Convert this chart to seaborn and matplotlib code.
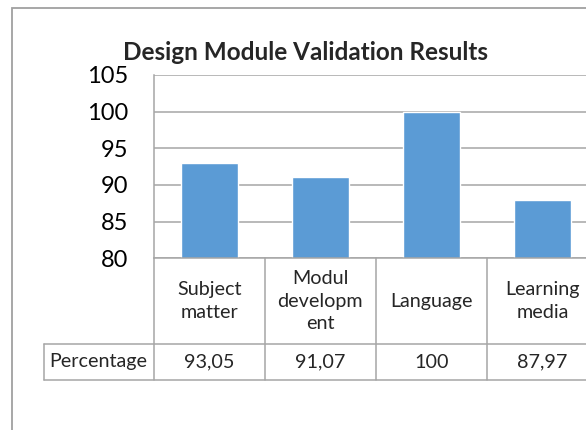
import matplotlib
matplotlib.use("Agg")
import matplotlib.pyplot as plt
import matplotlib.patches as mpatches
import seaborn as sns

# ------------------------------------------------------------
# Data
# ------------------------------------------------------------
categories = ["Subject\nmatter", "Modul\ndevelopm\nent", "Language", "Learning\nmedia"]
values = [93.05, 91.07, 100, 87.97]
value_labels = ["93,05", "91,07", "100", "87,97"]
row_label = "Percentage"
title = "Design Module Validation Results"
y_ticks = [80, 85, 90, 95, 100, 105]

sns.set_style("white")
plt.rcParams["font.family"] = ["Lato", "DejaVu Sans"]

W, H = 586, 430
fig = plt.figure(figsize=(W / 100, H / 100), dpi=100)

# plot area in pixel terms (extends past the right edge like the cropped original)
left, right, top, bottom = 153.7, 598.0, 75.0, 258.3
ax = fig.add_axes([left / W, 1 - bottom / H, (right - left) / W, (bottom - top) / H])

grey = "#a6a6a6"
sns.barplot(x=list(range(len(values))), y=values, color="#5b9bd5",
            saturation=1, width=0.51, ax=ax)

ax.set_ylim(80, 105)
ax.set_xlim(-0.5, len(values) - 0.5)
ax.set_yticks(y_ticks)
ax.set_yticklabels([str(t) for t in y_ticks], fontsize=17)
ax.set_xticks([])
ax.set_xlabel("")
ax.set_ylabel("")
ax.yaxis.grid(True, color=grey, linewidth=1.1)
ax.set_axisbelow(True)
ax.tick_params(axis="y", length=6.3, width=1, color=grey, pad=12, labelcolor="black")
for side in ["top", "right"]:
    ax.spines[side].set_visible(False)
for side in ["left", "bottom"]:
    ax.spines[side].set_color(grey)
    ax.spines[side].set_linewidth(1.1)

# ------------------------------------------------------------
# Data table below the plot
# ------------------------------------------------------------
ah = bottom - top
row1 = -(344.3 - bottom) / ah
row2 = -(379.7 - bottom) / ah
label_left = -(left - 43.7) / (right - left) * len(values) - 0.5
trans = ax.get_xaxis_transform()

line_kw = dict(color=grey, linewidth=1.1, transform=trans, clip_on=False)
# vertical column lines
for i in range(len(values) + 1):
    ax.plot([i - 0.5, i - 0.5], [0, row2], **line_kw)
ax.plot([label_left, label_left], [row1, row2], **line_kw)
# horizontal lines
ax.plot([label_left, len(values) - 0.5], [row1, row1], **line_kw)
ax.plot([label_left, len(values) - 0.5], [row2, row2], **line_kw)

for i, (cat, lab) in enumerate(zip(categories, value_labels)):
    ax.text(i, row1 / 2, cat, transform=trans, ha="center", va="center",
            fontsize=14.2, linespacing=1.4, clip_on=False)
    ax.text(i, (row1 + row2) / 2, lab, transform=trans, ha="center", va="center",
            fontsize=14.2, clip_on=False)
ax.text((label_left - 0.5) / 2, (row1 + row2) / 2, row_label, transform=trans,
        ha="center", va="center", fontsize=14.2, clip_on=False)

# title
fig.text(305.5 / W, 1 - 52 / H, title, ha="center", va="center",
         fontsize=17.5, fontweight="bold")

# outer chart border (cropped on right and bottom)
fig.patches.append(mpatches.Rectangle((11.7 / W, -0.2), 1.2, 1.2 - 8 / H,
                                      transform=fig.transFigure, fill=False,
                                      edgecolor="#a0a0a0", linewidth=1.3))

fig.savefig("out.png", dpi=100)
